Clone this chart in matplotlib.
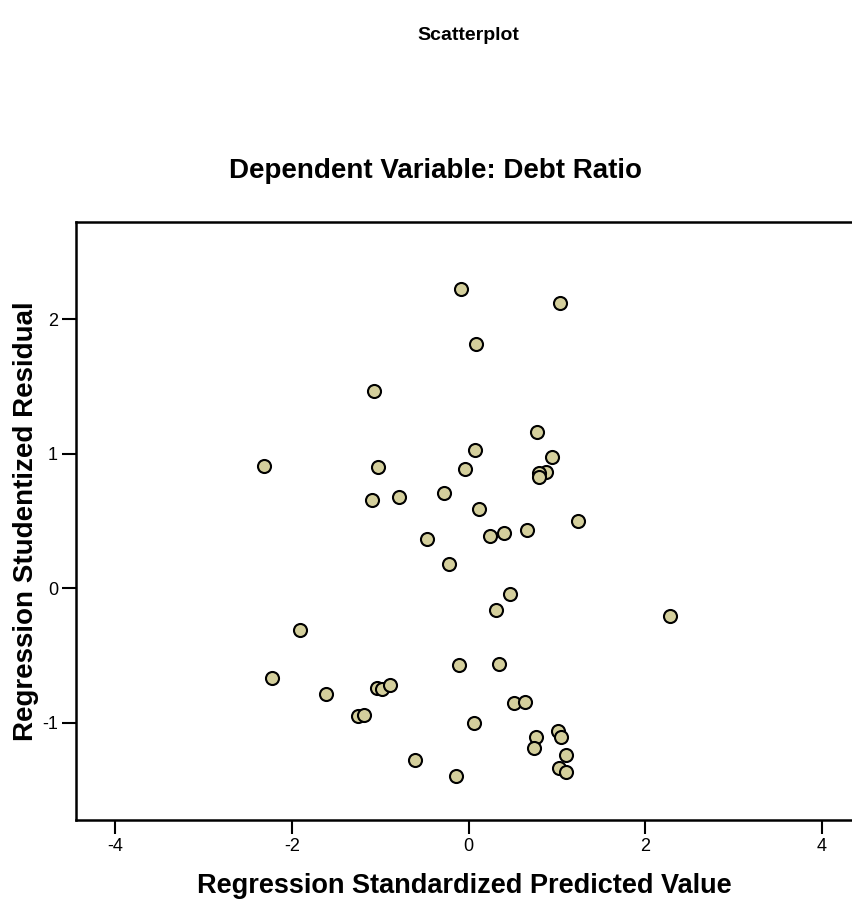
import matplotlib
matplotlib.use("Agg")
import matplotlib.pyplot as plt

plt.rcParams['font.family'] = ['Liberation Sans', 'DejaVu Sans']
plt.rcParams['axes.unicode_minus'] = False

# regression diagnostics
predicted = [-2.32, -0.09, 1.04, 0.09, -1.07, 0.77, 0.07, 0.95, -1.03, -0.04,
             0.88, 0.80, 0.80, -1.09, -0.79, -0.28, 0.12, 1.24, -0.47, 0.24,
             0.40, 0.66, -0.22, 0.47, 0.31, 2.28, -1.91, -0.11, 0.34, -2.23,
             -1.61, -1.04, -0.98, -0.885, -1.25, -1.18, 0.51, 0.64, 0.06, 1.01,
             1.05, 0.76, 0.74, 1.10, -0.61, -0.14, 1.03, 1.10]
residual = [0.91, 2.23, 2.12, 1.82, 1.47, 1.16, 1.03, 0.98, 0.90, 0.89,
            0.865, 0.86, 0.83, 0.66, 0.68, 0.71, 0.59, 0.50, 0.37, 0.39,
            0.41, 0.43, 0.18, -0.045, -0.16, -0.21, -0.31, -0.57, -0.56, -0.665,
            -0.785, -0.74, -0.75, -0.72, -0.95, -0.945, -0.85, -0.845, -1.005, -1.06,
            -1.11, -1.105, -1.19, -1.24, -1.28, -1.40, -1.34, -1.37]

x_ticks = [-4, -2, 0, 2, 4]
y_ticks = [-1, 0, 1, 2]

fig = plt.figure(figsize=(8.53, 9.05), dpi=100)
ax = fig.add_axes([76 / 853, 85 / 905, 777 / 853, 598 / 905])

ax.scatter(predicted, residual, s=88, facecolor='#D4CF9C', edgecolor='black',
           linewidths=1.5, zorder=3, clip_on=False)

ax.set_xlim(-4.445, 4.354)
ax.set_ylim(-1.724, 2.725)
ax.set_xticks(x_ticks)
ax.set_yticks(y_ticks)
ax.tick_params(direction='out', length=10, width=1.5, labelsize=13, pad=3)

for side in ['left', 'bottom', 'top']:
    ax.spines[side].set_linewidth(1.8)
ax.spines['right'].set_visible(False)

ax.set_xlabel('Regression Standardized Predicted Value', fontsize=19.5,
              fontweight='bold', labelpad=13)
ax.set_ylabel('Regression Studentized Residual', fontsize=20,
              fontweight='bold', labelpad=2)

fig.text(468 / 853, 1 - 35 / 905, 'Scatterplot', ha='center', va='center',
         fontsize=14, fontweight='bold')
fig.text(436 / 853, 1 - 171 / 905, 'Dependent Variable: Debt Ratio', ha='center',
         va='center', fontsize=20, fontweight='bold')

fig.savefig('out.png', dpi=100)
